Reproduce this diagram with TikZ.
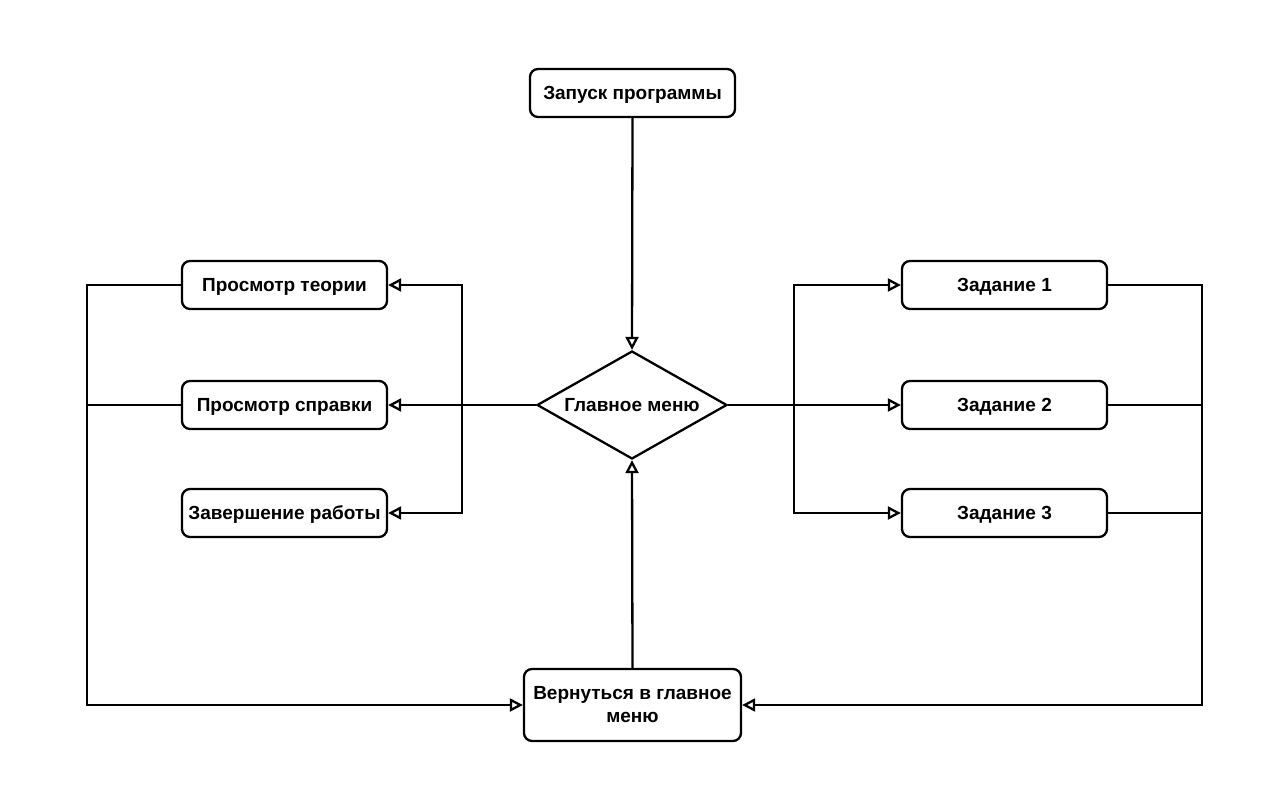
\documentclass[tikz,border=0pt]{standalone}
\usepackage{fontspec}
\setmainfont{Liberation Sans}
\usetikzlibrary{arrows.meta,shapes.geometric}
\tikzset{
  txt/.style={font=\fontsize{19}{23}\selectfont\bfseries},
  box/.style={draw, line width=2.3pt, rounded corners=8pt, minimum width=205pt, minimum height=48pt, inner sep=0pt, txt, text height=13.7pt, text depth=0pt, fill=white},
  dia/.style={draw, line width=2.3pt, diamond, aspect=1.76, minimum width=190pt, minimum height=108pt, inner sep=0pt, txt, text height=13.7pt, text depth=0pt, fill=white},
  conn/.style={line width=2.3pt, -{Triangle[open, length=13pt, width=13pt, line width=2.3pt]}},
  plain/.style={line width=2.3pt}
}
\begin{document}
\begin{tikzpicture}[x=1pt,y=-1pt]
\useasboundingbox (0,0) rectangle (1283,786);
\fill[white] (0,0) rectangle (1283,786);
\node[box] (start) at (632.5,93) {Запуск программы};
\node[dia] (menu) at (632,405) {Главное меню};
\node[box] (theory) at (284.5,285) {Просмотр теории};
\node[box] (help) at (284.5,405) {Просмотр справки};
\node[box] (finish) at (284.5,513) {Завершение работы};
\node[box] (t1) at (1004.5,285) {Задание 1};
\node[box] (t2) at (1004.5,405) {Задание 2};
\node[box] (t3) at (1004.5,513) {Задание 3};
\node[draw, line width=2.3pt, rounded corners=8pt, fill=white, minimum width=217pt, minimum height=72pt, inner sep=0pt, txt, align=center] (back) at (632.5,705) {Вернуться в главное\\меню};
\coordinate (ljoin) at (462,405);
\coordinate (rjoin) at (794,405);
\coordinate (lfar) at (87,705);
\coordinate (rfar) at (1202,705);
\draw[conn] (start.south) -- (menu.north);
\draw[conn] (back.north) -- (menu.south);
\draw[conn] (menu.west) -- (help.east);
\draw[conn] (ljoin) |- (theory.east);
\draw[conn] (ljoin) |- (finish.east);
\draw[conn] (menu.east) -- (t2.west);
\draw[conn] (rjoin) |- (t1.west);
\draw[conn] (rjoin) |- (t3.west);
\draw[conn] (theory.west) -| (lfar) -- (back.west);
\draw[plain] (help.west) -- (help.west -| lfar);
\draw[conn] (t1.east) -| (rfar) -- (back.east);
\draw[plain] (t2.east) -- (t2.east -| rfar);
\draw[plain] (t3.east) -- (t3.east -| rfar);
\end{tikzpicture}
\end{document}
